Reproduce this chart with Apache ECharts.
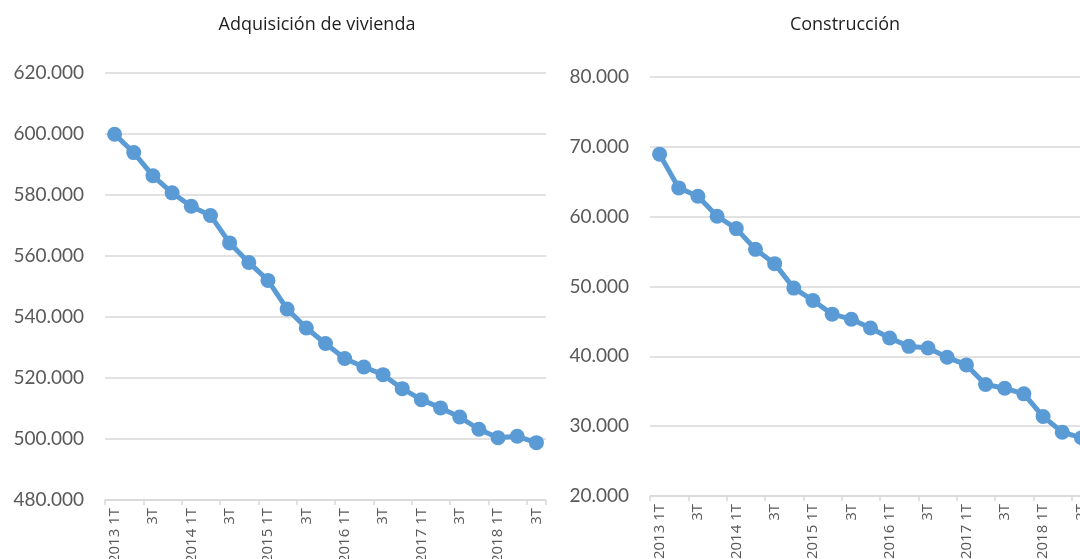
<!DOCTYPE html>
<html>
<head>
<meta charset="utf-8">
<script src="https://cdn.jsdelivr.net/npm/echarts@6/dist/echarts.min.js"></script>
<style>
html,body{margin:0;padding:0;background:#fff;}
#c{width:1080px;height:559px;}
</style>
</head>
<body>
<div id="c"></div>
<script>
// ---- data ----
const years = ['2013','2014','2015','2016','2017','2018'];
const quarters = ['1T','2T','3T','4T'];
const categories = [];
years.forEach(y => quarters.forEach((q, i) => {
  if (categories.length < 23) categories.push(i === 0 ? y + ' ' + q : q);
}));
const viviendaTitle = 'Adquisición de vivienda';
const construccionTitle = 'Construcción';
const vivienda = [599900, 593900, 586300, 580700, 576300, 573300, 564300, 557900, 552000, 542600,
                  536400, 531300, 526400, 523600, 521100, 516500, 512900, 510200, 507200, 503200,
                  500400, 500900, 498800];
const construccion = [68950, 64120, 62930, 60060, 58290, 55320, 53270, 49770, 48000, 46040,
                      45320, 44060, 42630, 41430, 41200, 39860, 38770, 35960, 35430, 34630,
                      31380, 29140, 28340];
const viviendaAxis = {min: 480000, max: 620000, interval: 20000};
const construccionAxis = {min: 20000, max: 80000, interval: 10000};

// ---- chart ----
const fmt = v => String(v).replace(/\B(?=(\d{3})+(?!\d))/g, '.');
const blue = '#5B9BD5';
const grid = '#D9D9D9';
const labelColor = '#595959';

function xAxis(idx) {
  return {
    type: 'category', gridIndex: idx, data: categories, boundaryGap: true,
    axisLine: {lineStyle: {color: grid, width: 1.5}},
    axisTick: {show: true, length: 5, lineStyle: {color: grid, width: 1.5}},
    axisLabel: {rotate: 90, interval: 1, color: labelColor, fontSize: 15,
                fontFamily: 'Open Sans', margin: 8}
  };
}
function yAxis(idx, ax) {
  return {
    type: 'value', gridIndex: idx, min: ax.min, max: ax.max, interval: ax.interval,
    axisLine: {show: false}, axisTick: {show: false},
    splitLine: {lineStyle: {color: grid, width: 1.5}},
    axisLabel: {formatter: fmt, color: labelColor, fontSize: 19, fontFamily: 'Lato', margin: 21}
  };
}
function series(idx, data) {
  return {
    type: 'line', xAxisIndex: idx, yAxisIndex: idx, data: data,
    symbol: 'circle', symbolSize: 15, showSymbol: true, showAllSymbol: true,
    lineStyle: {color: blue, width: 5},
    itemStyle: {color: blue},
    animation: false
  };
}

const chart = echarts.init(document.getElementById('c'), null, {renderer: 'canvas'});
chart.setOption({
  animation: false,
  title: [
    {text: viviendaTitle, left: 312, top: 11, textAlign: 'center',
     textStyle: {fontSize: 18, fontWeight: 'normal', color: '#1f1f1f', fontFamily: 'Open Sans'}},
    {text: construccionTitle, left: 840, top: 11, textAlign: 'center',
     textStyle: {fontSize: 18, fontWeight: 'normal', color: '#1f1f1f', fontFamily: 'Open Sans'}}
  ],
  grid: [
    {left: 105, top: 73, width: 441, height: 427, containLabel: false, outerBoundsMode: 'none'},
    {left: 650, top: 77, width: 441, height: 419, containLabel: false, outerBoundsMode: 'none'}
  ],
  xAxis: [xAxis(0), xAxis(1)],
  yAxis: [yAxis(0, viviendaAxis), yAxis(1, construccionAxis)],
  series: [series(0, vivienda), series(1, construccion)]
});
</script>
</body>
</html>
